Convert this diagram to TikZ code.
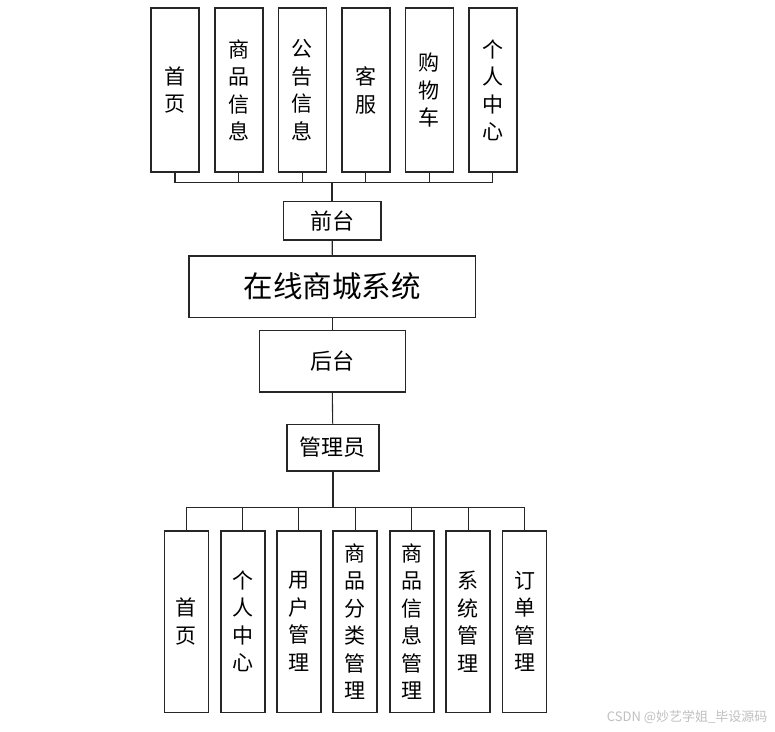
\documentclass[tikz,border=0pt]{standalone}
\usepackage{fontspec}
\usepackage{tikz}
\usepackage{xcolor}
\newfontfamily\cjk{Noto Sans CJK SC}

\begin{document}
\begin{tikzpicture}[x=1pt,y=1pt,every node/.style={font=\cjk\fontsize{21}{27.5}\selectfont}]
\useasboundingbox (0,0) rectangle (775,-731);
\tikzset{
  modbox/.style={draw=black!85,line width=1.6pt,inner sep=0pt,align=center},
  link/.style={draw=black!85,line width=1.1pt},
  trunk/.style={draw=black!85,line width=2.4pt}
}
% front end modules
\node[modbox,minimum width=48,minimum height=164] (fsy) at (175,-90.2) {首\\页};
\node[modbox,minimum width=48,minimum height=164] (fsp) at (238.8,-90.2) {商\\品\\信\\息};
\node[modbox,minimum width=48,minimum height=164] (fgg) at (302.3,-90.2) {公\\告\\信\\息};
\node[modbox,minimum width=48,minimum height=164] (fkf) at (365.7,-90.2) {客\\服};
\node[modbox,minimum width=48,minimum height=164] (fgw) at (429.3,-90.2) {购\\物\\车};
\node[modbox,minimum width=48,minimum height=164] (fgr) at (492.8,-90.2) {个\\人\\中\\心};
\coordinate (fbus) at (332.2,-182.7);
\draw[link] (fsy.south) |- (fbus);
\draw[link] (fsp.south) |- (fbus);
\draw[link] (fgg.south) |- (fbus);
\draw[link] (fkf.south) |- (fbus);
\draw[link] (fgw.south) |- (fbus);
\draw[link] (fgr.south) |- (fbus);
% centre column
\node[modbox,minimum width=97.7,minimum height=38.3,font=\cjk\fontsize{22}{27}\selectfont] (front) at (332.2,-220.8) {前台};
\node[modbox,minimum width=286.7,minimum height=61.3,font=\cjk\fontsize{29.5}{32}\selectfont] (sys) at (332.3,-286.7) {在线商城系统};
\node[modbox,minimum width=146,minimum height=61.3,font=\cjk\fontsize{22}{27}\selectfont] (back) at (332.3,-361.3) {后台};
\node[modbox,minimum width=92,minimum height=46.4,font=\cjk\fontsize{22}{27}\selectfont] (admin) at (332.7,-447.5) {管理员};
\draw[trunk] (fbus) -- (front.north);
\draw[link] (front.south) -- (sys.north);
\draw[link] (sys.south) -- (back.north);
\draw[link] (back.south) -- (admin.north);
% back end modules
\node[modbox,minimum width=44,minimum height=181.6] (bsy) at (186.3,-621.5) {首\\页};
\node[modbox,minimum width=44,minimum height=181.6] (bgr) at (242.7,-621.5) {个\\人\\中\\心};
\node[modbox,minimum width=44,minimum height=181.6] (byh) at (298.8,-621.5) {用\\户\\管\\理};
\node[modbox,minimum width=44,minimum height=181.6] (bfl) at (355.2,-621.5) {商\\品\\分\\类\\管\\理};
\node[modbox,minimum width=44,minimum height=181.6] (bxx) at (411.8,-621.5) {商\\品\\信\\息\\管\\理};
\node[modbox,minimum width=44,minimum height=181.6] (bxt) at (468.2,-621.5) {系\\统\\管\\理};
\node[modbox,minimum width=44,minimum height=181.6] (bdd) at (524.5,-621.5) {订\\单\\管\\理};
\coordinate (bbus) at (332.7,-507.7);
\draw[trunk] (admin.south) -- (bbus);
\draw[link] (bsy.north) |- (bbus);
\draw[link] (bgr.north) |- (bbus);
\draw[link] (byh.north) |- (bbus);
\draw[link] (bfl.north) |- (bbus);
\draw[link] (bxx.north) |- (bbus);
\draw[link] (bxt.north) |- (bbus);
\draw[link] (bdd.north) |- (bbus);
% watermark
\node[text=black!25,font=\cjk\fontsize{13}{15}\selectfont,anchor=east] (mark) at (771,-717) {CSDN @妙艺学姐\_毕设源码};
\end{tikzpicture}
\end{document}
